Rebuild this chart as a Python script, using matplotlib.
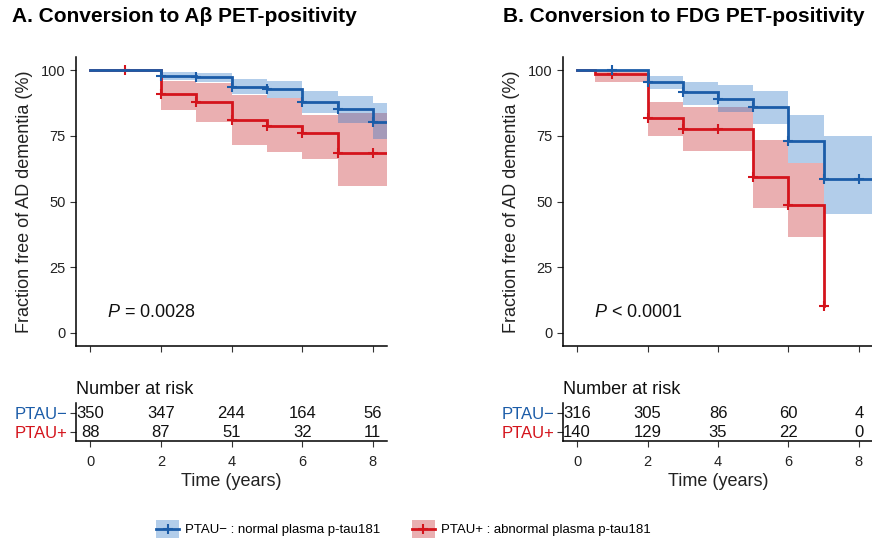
import matplotlib
matplotlib.use("Agg")
import matplotlib.pyplot as plt
from matplotlib.patches import Rectangle
from matplotlib.lines import Line2D

plt.rcParams['font.family'] = ['Liberation Sans', 'DejaVu Sans']
plt.rcParams['mathtext.fontset'] = 'custom'
plt.rcParams['mathtext.rm'] = 'Liberation Sans'
plt.rcParams['mathtext.it'] = 'Liberation Sans:italic'

# ---------------- data ----------------
titles = ["A. Conversion to Aβ PET-positivity", "B. Conversion to FDG PET-positivity"]
pvals = ["$P$ = 0.0028", "$P$ < 0.0001"]
groups = ["PTAU−", "PTAU+"]
legend_labels = ["PTAU− : normal plasma p-tau181", "PTAU+ : abnormal plasma p-tau181"]
risk_times = [0, 2, 4, 6, 8]

# Panel A
a_neg_t = [0, 2, 3, 4, 5, 6, 7, 8]
a_neg_s = [100, 97.6, 97.2, 93.7, 92.8, 88.0, 85.3, 80.4]
a_neg_lo = [100, 96.2, 95.5, 90.8, 89.5, 83.5, 80.0, 73.8]
a_neg_hi = [100, 99.2, 99.0, 96.6, 95.8, 91.9, 90.0, 87.6]
a_neg_cens = [2, 3, 4, 5, 6, 7, 8]
a_neg_end = 8.4

a_pos_t = [0, 2, 3, 4, 5, 6, 7]
a_pos_s = [100, 91.1, 87.8, 81.0, 78.7, 76.0, 68.5]
a_pos_lo = [100, 84.8, 80.4, 71.6, 69.0, 66.0, 55.8]
a_pos_hi = [100, 96.0, 95.2, 90.6, 89.5, 83.0, 83.5]
a_pos_cens = [1, 2, 3, 4, 5, 6, 7, 8]
a_pos_end = 8.4

a_risk_neg = [350, 347, 244, 164, 56]
a_risk_pos = [88, 87, 51, 32, 11]

# Panel B
b_neg_t = [0, 2, 3, 4, 5, 6, 7]
b_neg_s = [100, 95.3, 91.5, 89.2, 86.1, 73.0, 58.5]
b_neg_lo = [100, 93.0, 86.7, 84.2, 79.5, 64.6, 45.3]
b_neg_hi = [100, 97.7, 95.6, 94.3, 92.0, 82.9, 75.1]
b_neg_cens = [1, 2, 3, 4, 5, 6, 7, 8]
b_neg_end = 8.4

b_pos_t = [0, 0.5, 2, 3, 5, 6, 7]
b_pos_s = [100, 98.6, 81.6, 77.5, 59.5, 48.7, 10.1]
b_pos_lo = [100, 95.6, 74.9, 69.4, 47.7, 36.3, 10.1]
b_pos_hi = [100, 100, 88.0, 86.1, 73.4, 64.6, 10.1]
b_pos_cens = [1, 2, 3, 4, 5, 6, 7]
b_pos_end = 7.0

b_risk_neg = [316, 305, 86, 60, 4]
b_risk_pos = [140, 129, 35, 22, 0]

BLUE = "#1B5CA8"
RED = "#D4141C"
BLUE_F = "#2F78C8"
RED_F = "#C8262C"
FA = 0.37
LW = 2.0
MS = 7.5
MEW = 1.5

W, H = 872, 541
fig = plt.figure(figsize=(W / 100, H / 100), dpi=100)


def fx(px):
    return px / W


def fy(py):
    return 1 - py / H


def surv_at(t, times, s):
    v = s[0]
    for ti, si in zip(times, s):
        if ti <= t:
            v = si
    return v


def draw_curve(ax, t, s, lo, hi, cens, end, color, fcolor):
    tt = list(t) + [end]
    ss = list(s) + [s[-1]]
    ll = list(lo) + [lo[-1]]
    hh = list(hi) + [hi[-1]]
    ax.fill_between(tt, ll, hh, step='post', color=fcolor, alpha=FA, lw=0)
    ax.step(tt, ss, where='post', color=color, lw=LW, solid_joinstyle='miter')
    cy = [surv_at(c, t, s) for c in cens]
    ax.plot(cens, cy, ls='none', marker='+', ms=MS, mew=MEW, color=color)


class KMHandler:
    def __init__(self, color, fcolor):
        self.color = color
        self.fcolor = fcolor

    def legend_artist(self, legend, orig_handle, fontsize, handlebox):
        x0, y0 = -handlebox.xdescent, -handlebox.ydescent
        w, h = handlebox.width, handlebox.height
        tr = handlebox.get_transform()
        rect = Rectangle((x0, y0), w, h, facecolor=self.fcolor, alpha=FA, lw=0, transform=tr)
        line = Line2D([x0, x0 + w], [y0 + h / 2] * 2, color=self.color, lw=LW, transform=tr)
        mk = Line2D([x0 + w / 2], [y0 + h / 2], color=self.color, marker='+', ms=MS, mew=MEW, ls='none', transform=tr)
        handlebox.add_artist(rect)
        handlebox.add_artist(line)
        handlebox.add_artist(mk)
        return rect


panels = [
    dict(left=76, right=387, title_x=12,
         neg=(a_neg_t, a_neg_s, a_neg_lo, a_neg_hi, a_neg_cens, a_neg_end),
         pos=(a_pos_t, a_pos_s, a_pos_lo, a_pos_hi, a_pos_cens, a_pos_end),
         rn=a_risk_neg, rp=a_risk_pos),
    dict(left=563, right=873, title_x=503,
         neg=(b_neg_t, b_neg_s, b_neg_lo, b_neg_hi, b_neg_cens, b_neg_end),
         pos=(b_pos_t, b_pos_s, b_pos_lo, b_pos_hi, b_pos_cens, b_pos_end),
         rn=b_risk_neg, rp=b_risk_pos),
]

for i, p in enumerate(panels):
    L, R = p['left'], p['right']
    ax = fig.add_axes([fx(L), fy(346), fx(R - L), (346 - 57) / H])
    draw_curve(ax, *p['pos'], RED, RED_F)
    draw_curve(ax, *p['neg'], BLUE, BLUE_F)
    ax.set_xlim(-0.4, 8.4)
    ax.set_ylim(-5, 105)
    ax.set_xticks(risk_times)
    ax.set_yticks([0, 25, 50, 75, 100])
    ax.tick_params(axis='both', labelsize=10.5, length=4, width=0.8, color='#333333', labelcolor='#222222')
    ax.tick_params(axis='x', labelcolor='none')
    for sp in ['top', 'right']:
        ax.spines[sp].set_visible(False)
    for sp in ['left', 'bottom']:
        ax.spines[sp].set_linewidth(1.1)
    ax.set_ylabel("Fraction free of AD dementia (%)", fontsize=13, labelpad=6, color='#222222')
    ax.text(0.48, 7.6, pvals[i], fontsize=13, va='center', ha='left', color='#111111')
    ax.patch.set_alpha(0)
    fig.text(fx(p['title_x']), fy(17), titles[i], fontsize=15, fontweight='bold', va='center', ha='left')

    # risk table
    tax = fig.add_axes([fx(L), fy(441), fx(R - L), 38 / H])
    tax.set_xlim(-0.4, 8.4)
    tax.set_ylim(0, 2)
    for x, n in zip(risk_times, p['rn']):
        tax.text(x, 1.47, str(n), ha='center', va='center', fontsize=12, color='#111111')
    for x, n in zip(risk_times, p['rp']):
        tax.text(x, 0.47, str(n), ha='center', va='center', fontsize=12, color='#111111')
    tax.set_yticks([1.47, 0.47])
    tax.set_yticklabels(groups)
    tax.get_yticklabels()[0].set_color(BLUE)
    tax.get_yticklabels()[1].set_color(RED)
    tax.set_xticks(risk_times)
    tax.set_xticklabels([str(t) for t in risk_times])
    tax.tick_params(axis='both', labelsize=10.5, length=4, width=0.8, color='#333333')
    tax.tick_params(axis='y', labelsize=12, pad=2)
    tax.tick_params(axis='x', labelcolor='#222222', pad=6)
    for sp in ['top', 'right']:
        tax.spines[sp].set_visible(False)
    for sp in ['left', 'bottom']:
        tax.spines[sp].set_linewidth(1.1)
    tax.set_xlabel("Time (years)", fontsize=13, labelpad=3, color='#222222')
    tax.patch.set_alpha(0)
    fig.text(fx(L), fy(390), "Number at risk", fontsize=13, va='center', ha='left', color='#111111')

# legend
hb = Rectangle((0, 0), 1, 1)
hr = Rectangle((0, 0), 1, 1)
fig.legend([hb, hr], legend_labels,
           handler_map={hb: KMHandler(BLUE, BLUE_F), hr: KMHandler(RED, RED_F)},
           loc='center', bbox_to_anchor=(fx(403), fy(529)), ncol=2, frameon=False,
           fontsize=9.5, handlelength=1.8, handleheight=1.65, columnspacing=2.4, handletextpad=0.4)

fig.savefig("out.png", dpi=100)
